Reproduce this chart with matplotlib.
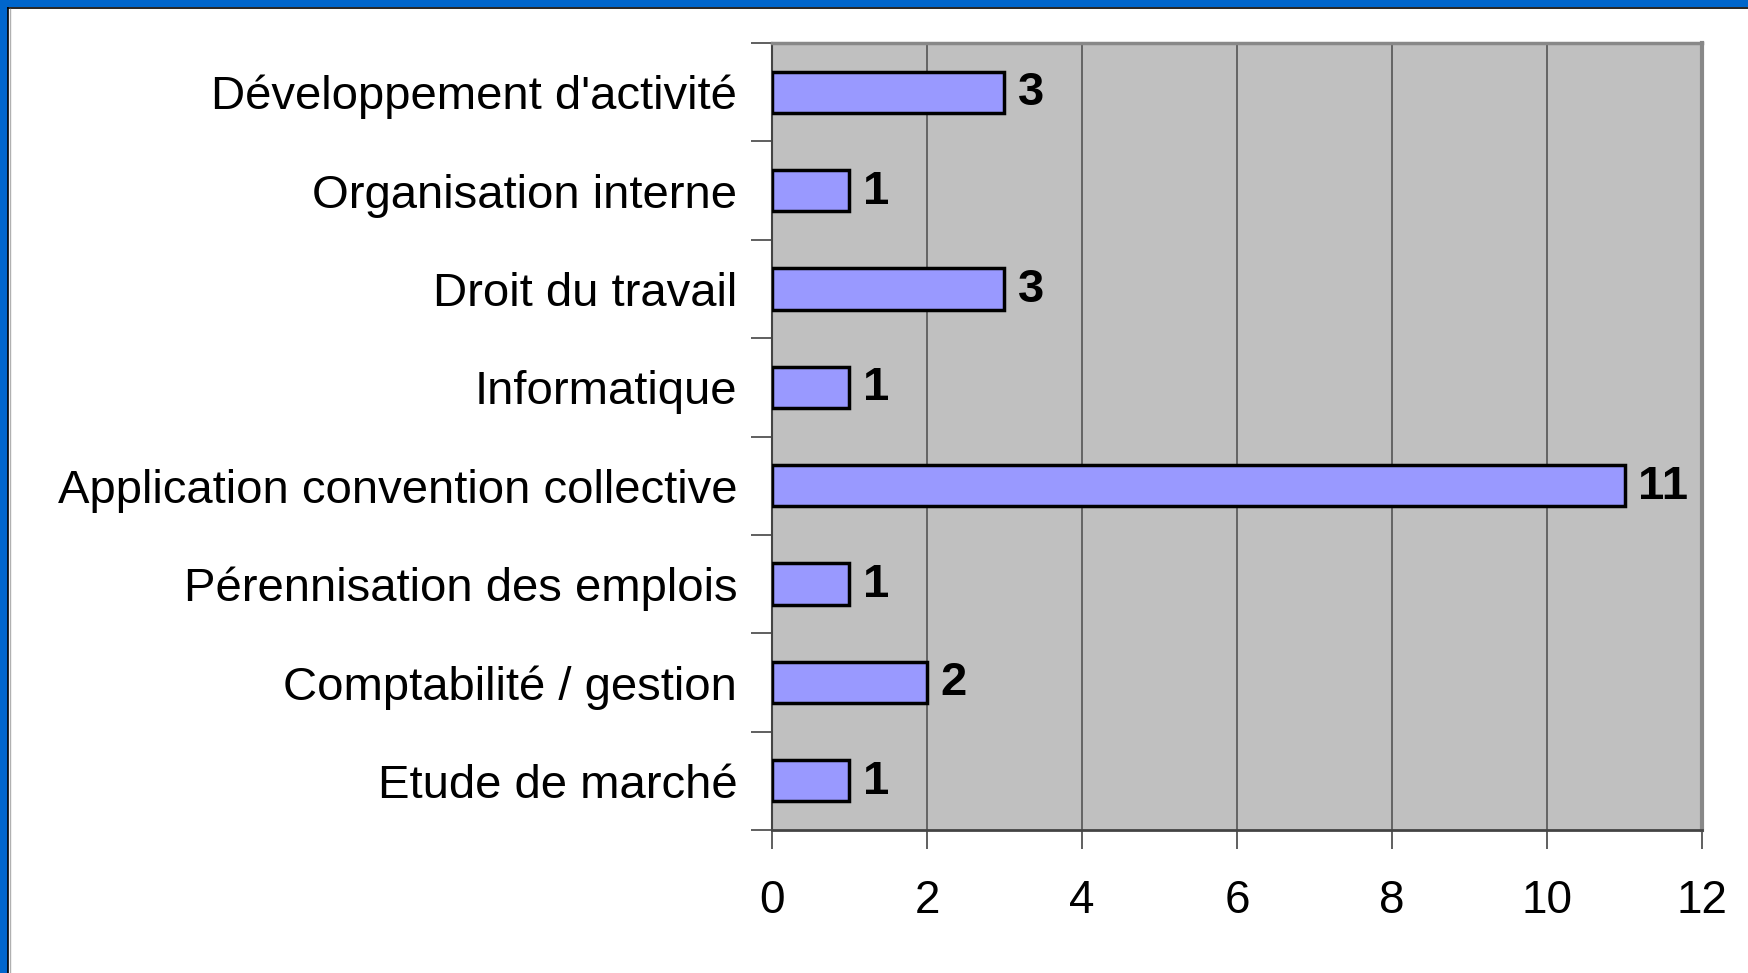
import numpy as np
import matplotlib.pyplot as plt
from matplotlib.patches import Rectangle
from matplotlib.lines import Line2D

categories = ["Développement d'activité", "Organisation interne", "Droit du travail",
              "Informatique", "Application convention collective",
              "Pérennisation des emplois", "Comptabilité / gestion", "Etude de marché"]
values = [3, 1, 3, 1, 11, 1, 2, 1]
xticks = [0, 2, 4, 6, 8, 10, 12]

plt.rcParams['font.family'] = ['Liberation Sans', 'DejaVu Sans']

W, H = 1749, 973
fig = plt.figure(figsize=(W / 100, H / 100), dpi=100)
fig.patch.set_facecolor('white')

# blue frame at top and left
fig.patches.append(Rectangle((0, 1 - 7 / H), 1, 7 / H, transform=fig.transFigure,
                             facecolor='#0066CC', edgecolor='none'))
fig.patches.append(Rectangle((0, 0), 8 / W, 1, transform=fig.transFigure,
                             facecolor='#0066CC', edgecolor='none'))
fig.lines.append(Line2D([8.5 / W, 1], [1 - 7.5 / H, 1 - 7.5 / H], transform=fig.transFigure,
                        color='black', lw=1.2))
fig.lines.append(Line2D([8.5 / W, 8.5 / W], [0, 1 - 7.5 / H], transform=fig.transFigure,
                        color='black', lw=1.2))
fig.lines.append(Line2D([9.8 / W, 9.8 / W], [0, 1 - 8.5 / H], transform=fig.transFigure,
                        color='#b0b0b0', lw=1))

ax = fig.add_axes([772 / W, 1 - 830 / H, 930 / W, 787 / H])
ax.set_facecolor('#C0C0C0')

n = len(categories)
ypos = np.arange(n)
ax.barh(ypos, values, height=0.42, color='#9999FF', edgecolor='black', linewidth=2.5, zorder=3)

for y, v in zip(ypos, values):
    ax.text(v + 0.17, y + 0.01, str(v), va='center', ha='left', fontsize=34,
            fontweight='bold', color='black', zorder=4)

ax.set_xlim(0, 12)
ax.set_ylim(n - 0.5, -0.5)
ax.set_xticks(xticks)
ax.set_xticklabels([str(t) for t in xticks])
ax.set_yticks(ypos)
ax.set_yticklabels(categories)
ax.set_yticks(np.arange(-0.5, n, 1.0), minor=True)

ax.xaxis.grid(True, color='#555555', linewidth=1.2, zorder=1)
ax.set_axisbelow(True)

ax.tick_params(axis='x', which='major', length=14, width=1.2, color='#444444',
               labelsize=33, pad=21)
ax.tick_params(axis='y', which='major', length=0, labelsize=34, pad=25)
ax.tick_params(axis='y', which='minor', length=15, width=1.2, color='#444444')

ax.spines['left'].set_color('#444444')
ax.spines['left'].set_linewidth(1.5)
ax.spines['bottom'].set_color('#444444')
ax.spines['bottom'].set_linewidth(2)
ax.spines['top'].set_color('#888888')
ax.spines['top'].set_linewidth(2.5)
ax.spines['right'].set_color('#888888')
ax.spines['right'].set_linewidth(3)

plt.savefig('out.png', dpi=100, facecolor=fig.get_facecolor())
